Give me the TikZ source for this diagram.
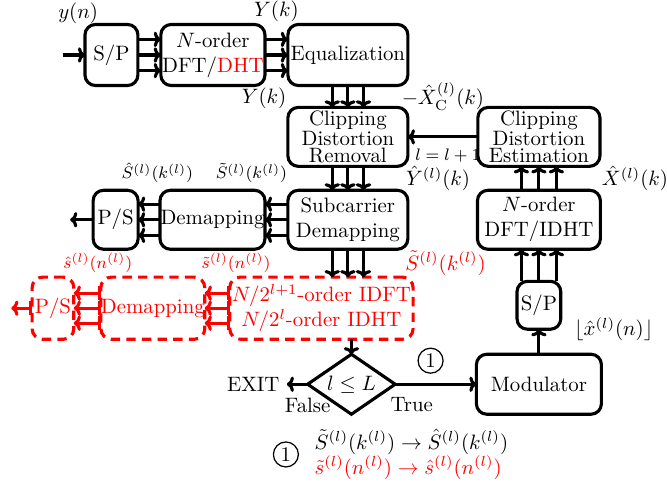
\documentclass[tikz,border=0pt]{standalone}
\usepackage{amsmath}
\usepackage{tikz}
\usetikzlibrary{shapes,arrows,arrows.meta,positioning}

\tikzstyle{blk} = [rectangle, rounded corners=5pt, draw=black, line width=1.5pt, fill=none, text=black, align=center, inner xsep=0pt, inner ysep=1pt, outer sep=0pt, font=\normalsize, minimum height=28.3pt]
\tikzstyle{rblk} = [blk, draw=red, text=red, dash pattern=on 4.5pt off 3pt]
\tikzstyle{clipblk} = [blk, font={\linespread{0.68}\selectfont}]
\tikzstyle{cond} = [diamond, draw=black, line width=1.5pt, aspect=1.5, inner sep=0pt, outer sep=0pt, minimum width=42pt, minimum height=28.8pt, font=\normalsize]
\tikzstyle{textonly} = [draw=none, fill=none, text centered, font=\normalsize]
\tikzstyle{circnum} = [circle, draw=black, line width=0.6pt, inner sep=0pt, minimum size=12pt, font=\normalsize]
\tikzstyle{tedge}  = [draw, line width=1.5pt, -{Computer Modern Rightarrow[length=3.4pt, width=7.4pt]}]
\tikzstyle{redge}  = [draw=red, line width=1.5pt, {Bar[width=6.5pt]}-{Computer Modern Rightarrow[length=3.4pt, width=7.4pt]}]

\begin{document}
\begin{tikzpicture}[auto]
\useasboundingbox (0,0) rectangle (320.2pt,-232.8pt);

% receiver chain =============================
\node[blk, minimum width=57.6pt, minimum height=29.3pt] (eq) at (167pt,-26.4pt) {Equalization};
\node[blk, minimum width=50pt, minimum height=29.3pt, left=11pt of eq] (dft1) {$N$-order\\DFT/\textcolor{red}{DHT}};
\node[blk, minimum width=25.4pt, minimum height=29.3pt, left=11pt of dft1] (sp1) {S/P};
\coordinate[left=10.6pt of sp1] (yin);

\node[clipblk, minimum width=57.6pt, below=10.5pt of eq] (cdr) {Clipping\\Distortion\\Removal};
\node[blk, minimum width=57.6pt, below=11.5pt of cdr] (scd) {Subcarrier\\Demapping};
\node[blk, minimum width=50.4pt, left=11pt of scd] (dm) {Demapping};
\node[blk, minimum width=21.6pt, left=10.5pt of dm] (ps) {P/S};
\coordinate[left=11pt of ps] (psout);

% feedback chain
\node[clipblk, minimum width=58.6pt, right=33.6pt of cdr] (cde) {Clipping\\Distortion\\Estimation};
\node[blk, minimum width=59pt, below=11.5pt of cde] (dft2) {$N$-order\\DFT/IDHT};
\node[blk, minimum width=21pt, minimum height=23pt, below=15.4pt of dft2] (sp2) {S/P};
\node[blk, minimum width=60pt, minimum height=28.8pt, below=12pt of sp2] (mod) {Modulator};
\node[cond, left=39pt of mod] (lcond) {$l \leq L$};
\node[textonly, left=10pt of lcond] (exit) {EXIT};
\node[textonly, below=3pt of lcond.west] (false) {False};
\node[textonly, below right=3pt and -5.7pt of lcond.east] (true) {True};

% reduced-order branch
\node[rblk, minimum width=88pt, minimum height=29.8pt, below=13.4pt of scd, xshift=-12.7pt] (idft) {$N/2^{l+1}$-order IDFT\\$N/2^{l}$-order IDHT};
\node[rblk, minimum width=49.4pt, minimum height=29.8pt, left=12pt of idft] (rdm) {Demapping};
\node[rblk, minimum width=20pt, minimum height=29.8pt, left=13pt of rdm] (rps) {P/S};
\coordinate[left=10pt of rps] (rpsout);

% legend
\node[textonly, align=left, below=3.8pt of lcond, xshift=28.8pt] (legend) {$\tilde{S}^{(l)}(k^{(l)}) \rightarrow \hat{S}^{(l)}(k^{(l)})$\\\textcolor{red}{$\tilde{s}^{(l)}(n^{(l)}) \rightarrow \hat{s}^{(l)}(n^{(l)})$}};
\node[circnum, left=4pt of legend] (num2) {1};

% edges
\path (yin) edge[tedge] node[textonly, above=11pt, xshift=2pt] {$y(n)$} (sp1);
\path ([yshift=7.5pt]sp1.east) edge[tedge] ([yshift=7.5pt]dft1.west);
\path (sp1) edge[tedge] (dft1);
\path ([yshift=-7.5pt]sp1.east) edge[tedge] ([yshift=-7.5pt]dft1.west);
\path ([yshift=7.5pt]dft1.east) edge[tedge] node[textonly, above=4.3pt] {$Y(k)$} ([yshift=7.5pt]eq.west);
\path (dft1) edge[tedge] (eq);
\path ([yshift=-7.5pt]dft1.east) edge[tedge] ([yshift=-7.5pt]eq.west);

\path ([xshift=-7.5pt]eq.south) edge[tedge] node[textonly, left=18pt] {$\hat{Y}(k)$} ([xshift=-7.5pt]cdr.north);
\path (eq) edge[tedge] (cdr);
\path ([xshift=7.5pt]eq.south) edge[tedge] ([xshift=7.5pt]cdr.north);
\path ([xshift=-7.5pt]cdr.south) edge[tedge] ([xshift=-7.5pt]scd.north);
\path (cdr) edge[tedge] (scd);
\path ([xshift=7.5pt]cdr.south) edge[tedge] node[textonly, right=16.4pt] {$\hat{Y}^{(l)}(k)$} ([xshift=7.5pt]scd.north);

\path ([yshift=7.5pt]scd.west) edge[tedge] node[textonly, above=6pt, xshift=-12pt, font=\footnotesize] {$\tilde{S}^{(l)}(k^{(l)})$} ([yshift=7.5pt]dm.east);
\path (scd) edge[tedge] (dm);
\path ([yshift=-7.5pt]scd.west) edge[tedge] ([yshift=-7.5pt]dm.east);
\path ([yshift=7.5pt]dm.west) edge[tedge] node[textonly, above=6pt, xshift=4pt, font=\footnotesize] {$\hat{S}^{(l)}(k^{(l)})$} ([yshift=7.5pt]ps.east);
\path (dm) edge[tedge] (ps);
\path ([yshift=-7.5pt]dm.west) edge[tedge] ([yshift=-7.5pt]ps.east);
\path (ps) edge[tedge] (psout);

\path[tedge] ([xshift=-7.5pt]scd.south) -- ++(0,-13.4pt);
\path[tedge] (scd.south) -- ++(0,-13.4pt);
\path[tedge] ([xshift=7.5pt]scd.south) -- node[textonly, right=16pt, text=red] {$\tilde{S}^{(l)}(k^{(l)})$} ++(0,-13.4pt);

\path ([yshift=7.2pt]idft.west) edge[redge] node[textonly, above=6pt, xshift=9pt, text=red, font=\footnotesize] {$\tilde{s}^{(l)}(n^{(l)})$} ([yshift=7.2pt]rdm.east);
\path (idft) edge[redge] (rdm);
\path ([yshift=-7.2pt]idft.west) edge[redge] ([yshift=-7.2pt]rdm.east);
\path ([yshift=7.2pt]rdm.west) edge[redge] node[textonly, above=6pt, xshift=5pt, text=red, font=\footnotesize] {$\hat{s}^{(l)}(n^{(l)})$} ([yshift=7.2pt]rps.east);
\path (rdm) edge[redge] (rps);
\path ([yshift=-7.2pt]rdm.west) edge[redge] ([yshift=-7.2pt]rps.east);
\path (rps) edge[redge] (rpsout);

\path (idft.south -| lcond.north) edge[tedge] (lcond.north);
\path (lcond) edge[tedge] (exit);
\path (lcond) edge[tedge] node[circnum, above=5pt, xshift=-2.5pt] (num1) {1} (mod);

\path (mod) edge[tedge] node[textonly, right=13pt, yshift=6pt] {$\lfloor\hat{x}^{(l)}(n)\rfloor$} (sp2);
\path ([xshift=-8.4pt]sp2.north) edge[tedge] ([xshift=-8.4pt]dft2.south);
\path (sp2) edge[tedge] (dft2);
\path ([xshift=8.4pt]sp2.north) edge[tedge] ([xshift=8.4pt]dft2.south);
\path ([xshift=-8.4pt]dft2.north) edge[tedge] ([xshift=-8.4pt]cde.south);
\path (dft2) edge[tedge] (cde);
\path ([xshift=8.4pt]dft2.north) edge[tedge] node[textonly, right=17.8pt] {$\hat{X}^{(l)}(k)$} ([xshift=8.4pt]cde.south);

\path (cde) edge[tedge] node[textonly, above=8.6pt] {$-\hat{X}_{\mathrm{C}}^{(l)}(k)$} node[textonly, below=1.5pt, xshift=2.4pt, font=\footnotesize] {$l=l+1$} (cdr);

\end{tikzpicture}
\end{document}
